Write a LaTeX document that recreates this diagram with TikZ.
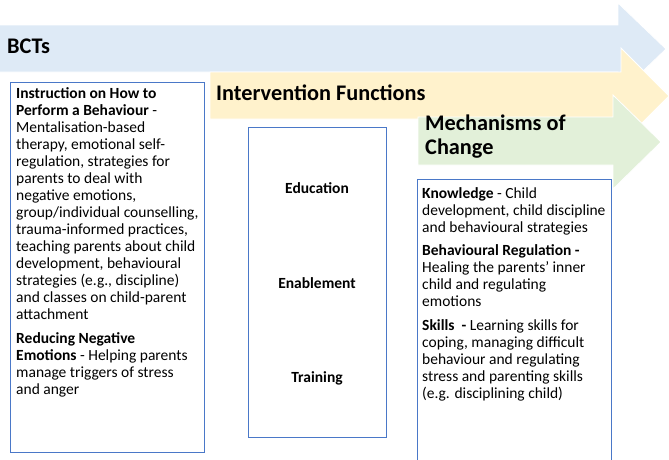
\documentclass[tikz,border=0pt]{standalone}
\usepackage{fontspec}
\setmainfont{Carlito}
\definecolor{bluearrow}{HTML}{DEEAF6}
\definecolor{yellowarrow}{HTML}{FFF2CC}
\definecolor{greenarrow}{HTML}{E2F0D9}
\definecolor{boxline}{HTML}{4A78C8}
\begin{document}
\begin{tikzpicture}[x=1pt,y=-1pt,
  band/.style={draw=white,line width=0.8pt},
  panel/.style={draw=boxline,line width=0.9pt,fill=white},
  heading/.style={font=\fontsize{22.3}{24}\selectfont\bfseries,inner sep=0pt,align=left},
  bodytext/.style={font=\fontsize{15.5}{17}\selectfont,inner sep=0pt,align=left,anchor=north west},
  func/.style={font=\fontsize{15.5}{17}\selectfont\bfseries,inner sep=0pt}]
\useasboundingbox (0,0) rectangle (669,459);
% arrows
\fill[band,fill=bluearrow] (-2,25) -- (618,25) -- (618,3) -- (666,49) -- (618,95) -- (618,72) -- (-2,72) -- cycle;
\fill[band,fill=yellowarrow] (210,72) -- (621,72) -- (621,48) -- (669,96) -- (621,144) -- (621,119) -- (210,119) -- cycle;
\fill[band,fill=greenarrow] (418,117) -- (613,117) -- (613,95) -- (661,142) -- (613,189) -- (613,165) -- (418,165) -- cycle;
\node[heading,anchor=west] (bcts) at (7,46) {BCTs};
\node[heading,anchor=west] (ifun) at (216,93) {Intervention Functions};
\node[heading,anchor=west] (moc) at (425,137) {Mechanisms of\\Change};
% boxes
\node[panel,anchor=north west,minimum width=194,minimum height=370,inner sep=0pt] (leftbox) at (10,82) {};
\node[panel,anchor=north west,minimum width=138,minimum height=310,inner sep=0pt] (midbox) at (248,127) {};
\node[panel,anchor=north west,minimum width=194,minimum height=290,inner sep=0pt] (rightbox) at (417,179) {};
\node[bodytext] (lefttext) at (16,87) {\textbf{Instruction on How to}\\
\textbf{Perform a Behaviour} -\\
Mentalisation-based\\
therapy, emotional self-\\
regulation, strategies for\\
parents to deal with\\
negative emotions,\\
group/individual counselling,\\
trauma-informed practices,\\
teaching parents about child\\
development, behavioural\\
strategies (e.g., discipline)\\
and classes on child-parent\\
attachment\\[7pt]
\textbf{Reducing Negative}\\
\textbf{Emotions} - Helping parents\\
manage triggers of stress\\
and anger};
\node[func] (edu) at (317,188) {Education};
\node[func] (ena) at (317,283) {Enablement};
\node[func] (tra) at (317,378) {Training};
\node[bodytext] (righttext) at (422,187) {\textbf{Knowledge} - Child\\
development, child discipline\\
and behavioural strategies\\[6.5pt]
\textbf{Behavioural Regulation -}\\
Healing the parents' inner\\
child and regulating\\
emotions\\[6.5pt]
\textbf{Skills\ \ -} Learning skills for\\
coping, managing difficult\\
behaviour and regulating\\
stress and parenting skills\\
(e.g. disciplining child)};
\end{tikzpicture}
\end{document}
